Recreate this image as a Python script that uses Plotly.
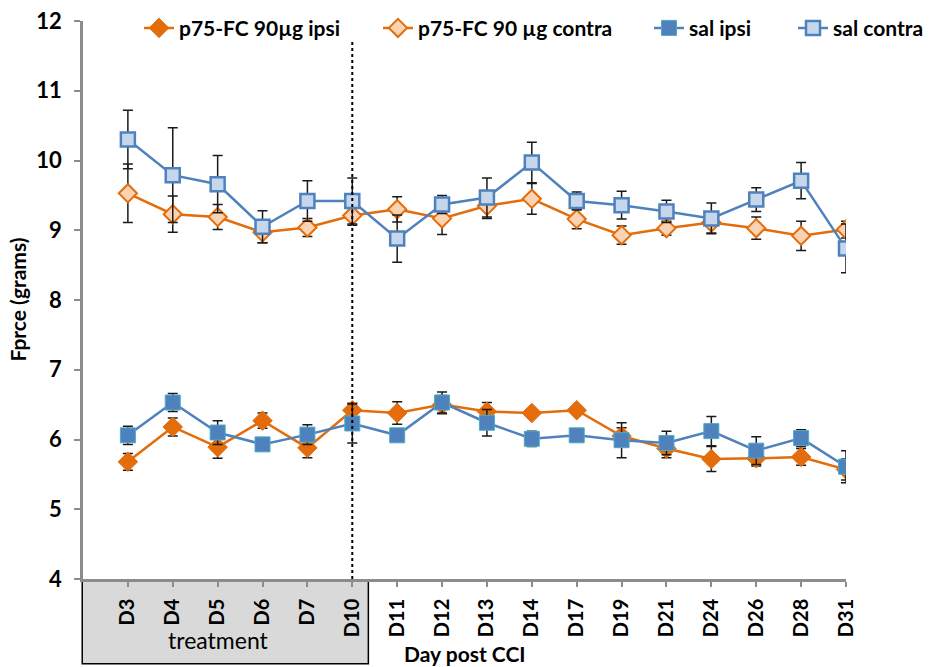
import plotly.graph_objects as go

categories = ["D3", "D4", "D5", "D6", "D7", "D10", "D11", "D12", "D13", "D14",
              "D17", "D19", "D21", "D24", "D26", "D28", "D31"]

p75_ipsi = [5.68, 6.18, 5.89, 6.27, 5.88, 6.42, 6.38, 6.50, 6.40, 6.38,
            6.42, 6.05, 5.87, 5.72, 5.73, 5.75, 5.57]
p75_ipsi_err = [0.12, 0.13, 0.16, 0.11, 0.14, 0.10, 0.16, 0.13, 0.13, 0.05,
                0.05, 0.12, 0.13, 0.18, 0.11, 0.12, 0.15]

p75_contra = [9.53, 9.23, 9.19, 8.97, 9.04, 9.21, 9.30, 9.17, 9.35, 9.45,
              9.16, 8.93, 9.03, 9.11, 9.03, 8.92, 9.01]
p75_contra_err = [0.42, 0.26, 0.18, 0.15, 0.13, 0.14, 0.18, 0.23, 0.18, 0.22,
                  0.14, 0.13, 0.10, 0.15, 0.16, 0.21, 0.12]

sal_ipsi = [6.06, 6.53, 6.10, 5.93, 6.07, 6.23, 6.06, 6.53, 6.24, 6.01,
            6.06, 5.99, 5.95, 6.12, 5.84, 6.02, 5.61]
sal_ipsi_err = [0.13, 0.13, 0.17, 0.04, 0.14, 0.28, 0.04, 0.15, 0.19, 0.11,
                0.03, 0.25, 0.17, 0.21, 0.20, 0.12, 0.23]

sal_contra = [10.30, 9.79, 9.66, 9.05, 9.42, 9.42, 8.88, 9.37, 9.47, 9.97,
              9.42, 9.36, 9.27, 9.17, 9.44, 9.71, 8.74]
sal_contra_err = [0.42, 0.68, 0.41, 0.23, 0.29, 0.33, 0.34, 0.13, 0.28, 0.29,
                  0.13, 0.20, 0.16, 0.22, 0.17, 0.26, 0.35]

y_ticks = [4, 5, 6, 7, 8, 9, 10, 11, 12]
treatment_end = "D10"
dotted_top = 11.71

x_idx = list(range(len(categories)))
ORANGE = "#E46C0A"
BLUE = "#4F81BD"
FONT = "Lato"

err_style = dict(type="data", color="#1a1a1a", thickness=1.5, width=5, visible=True)

fig = go.Figure()

fig.add_trace(go.Scatter(
    x=x_idx, y=p75_ipsi, name="p75-FC 90µg ipsi", mode="lines+markers",
    line=dict(color=ORANGE, width=2.5),
    marker=dict(symbol="diamond", size=15, color=ORANGE, line=dict(color=ORANGE, width=1)),
    error_y=dict(array=p75_ipsi_err, **err_style), legend="legend", showlegend=True))

fig.add_trace(go.Scatter(
    x=x_idx, y=p75_contra, name="p75-FC 90 µg contra", mode="lines+markers",
    line=dict(color=ORANGE, width=2.5),
    marker=dict(symbol="diamond", size=14, color="#FAD3B4", line=dict(color=ORANGE, width=2)),
    error_y=dict(array=p75_contra_err, **err_style), legend="legend2", showlegend=True))

fig.add_trace(go.Scatter(
    x=x_idx, y=sal_ipsi, name="sal ipsi", mode="lines+markers",
    line=dict(color=BLUE, width=2.5),
    marker=dict(symbol="square", size=15, color=BLUE, line=dict(color="#4BACC6", width=1)),
    error_y=dict(array=sal_ipsi_err, **err_style), legend="legend3", showlegend=True))

fig.add_trace(go.Scatter(
    x=x_idx, y=sal_contra, name="sal contra", mode="lines+markers",
    line=dict(color=BLUE, width=2.5),
    marker=dict(symbol="square", size=14, color="#C6D7EC", line=dict(color=BLUE, width=2.5)),
    error_y=dict(array=sal_contra_err, **err_style), legend="legend4", showlegend=True))

t_end = categories.index(treatment_end)

# dotted separator at end of treatment
fig.add_shape(type="line", xref="x", yref="y", x0=t_end, x1=t_end,
              y0=y_ticks[0], y1=dotted_top,
              line=dict(color="black", width=2, dash="dot"), layer="above")

# treatment box below axis
fig.add_shape(type="rect", xref="paper", yref="paper", x0=-0.001, x1=0.374,
              y0=-0.004, y1=-0.152, fillcolor="#D9D9D9",
              line=dict(color="black", width=1.5), layer="below")

fig.add_annotation(text="treatment", xref="paper", yref="paper", x=0.177, y=-0.109,
                   xanchor="center", yanchor="middle",
                   showarrow=False, font=dict(family=FONT, size=23, color="black"))
fig.add_annotation(text="<b>Day post CCI</b>", xref="paper", yref="paper", x=0.5, y=-0.134,
                   xanchor="center", yanchor="middle",
                   showarrow=False, font=dict(family=FONT, size=21, color="black"))
fig.add_annotation(text="<b>Fprce (grams)</b>", xref="paper", yref="paper", x=-0.087, y=0.5,
                   xanchor="center", yanchor="middle",
                   textangle=-90, showarrow=False, font=dict(family=FONT, size=21, color="black"))

W = 763.0
def lx(px):
    return (px - 41 - 83) / W

leg_common = dict(orientation="h", yanchor="middle", y=0.987, xanchor="left",
                  font=dict(family=FONT, size=21, color="black", weight="bold"),
                  bgcolor="rgba(255,255,255,0)", borderwidth=0, visible=True)

fig.update_layout(
    width=935, height=667,
    margin=dict(l=83, r=89, t=21, b=88, autoexpand=False),
    paper_bgcolor="white", plot_bgcolor="white",
    font=dict(family=FONT, color="black"),
    showlegend=True,
    legend=dict(x=lx(180), **leg_common),
    legend2=dict(x=lx(419), **leg_common),
    legend3=dict(x=lx(690), **leg_common),
    legend4=dict(x=lx(834), **leg_common),
    xaxis=dict(
        range=[-1, len(categories) - 1], tickmode="array", tickvals=x_idx, ticktext=categories,
        tickangle=-90, showgrid=False, zeroline=False, showline=True,
        linecolor="#8C8C8C", linewidth=2.5, ticks="outside", ticklen=5, tickwidth=2,
        tickcolor="#8C8C8C", ticklabelstandoff=4, automargin=False,
        tickfont=dict(family=FONT, size=20, color="black", weight="bold")),
    yaxis=dict(
        range=[y_ticks[0], y_ticks[-1]], tickmode="array", tickvals=y_ticks,
        showgrid=False, zeroline=False, showline=True,
        linecolor="#8C8C8C", linewidth=2.5, ticks="outside", ticklen=6, tickwidth=2,
        tickcolor="#8C8C8C", ticklabelstandoff=8, automargin=False,
        tickfont=dict(family=FONT, size=22, color="black", weight="bold")),
)

fig.write_html("out.html")
